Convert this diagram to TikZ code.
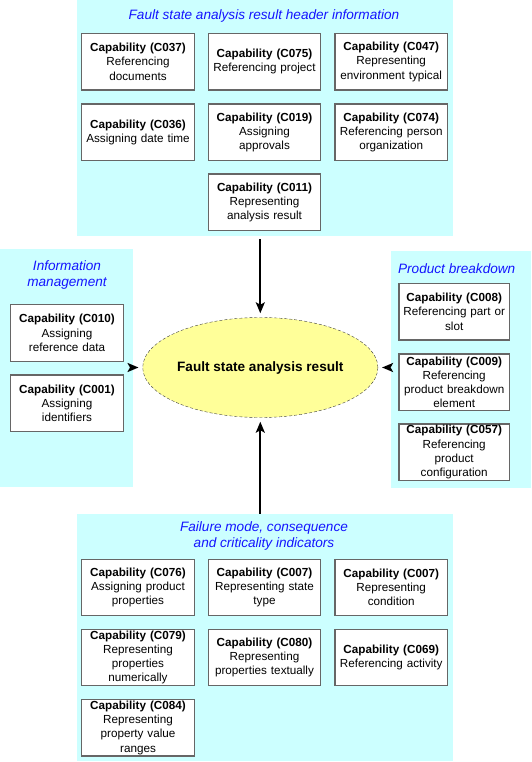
\documentclass[tikz,border=0pt]{standalone}
\usepackage{fontspec}
\setmainfont{Liberation Sans}
\usepackage{tikz}
\usetikzlibrary{arrows.meta, shapes.geometric, positioning}
\definecolor{colorPanel}{RGB}{204,255,255}
\definecolor{colorTitle}{RGB}{20,20,255}
\definecolor{colorResult}{RGB}{255,255,153}
\colorlet{colorBorder}{black!60}
\tikzset{
  capbox/.style={rectangle, draw=colorBorder, line width=1.4pt, fill=white, minimum width=112.5pt, minimum height=56.5pt, text width=110pt, inner xsep=1pt, inner ysep=0pt, align=center, font=\fontsize{11.7}{14.3}\selectfont},
  panel/.style={rectangle, fill=colorPanel, inner sep=0pt},
  paneltitle/.style={text=colorTitle, align=center, inner sep=0pt, font=\fontsize{13.6}{16.8}\selectfont\itshape},
  flow/.style={->, line width=2pt, shorten <=3pt, shorten >=4pt}
}

\begin{document}
\begin{tikzpicture}[>={Stealth[length=11pt, width=9pt, inset=2.5pt]}, x=1pt, y=-1pt]
\useasboundingbox (0,0) rectangle (531,762);
% groups
\node[panel, minimum width=376pt, minimum height=236pt] (header) at (265,118) {};
\node[panel, minimum width=133pt, minimum height=238pt] (infomgmt) at (66.5,368) {};
\node[panel, minimum width=140.3pt, minimum height=237pt] (prodbd) at (460.8,369.5) {};
\node[panel, minimum width=376pt, minimum height=247pt] (fmeca) at (265,637.5) {};
\node[paneltitle] (headertitle) at (264,16) {Fault state analysis result header information};
\node[paneltitle] (infomgmttitle) at (67,275) {Information\\management};
\node[paneltitle] (prodbdtitle) at (456.7,269) {Product breakdown};
\node[paneltitle] (fmecatitle) at (264,536) {Failure mode, consequence\\and criticality indicators};
% header information
\node[capbox] (c037) at (138,61.7) {\textbf{Capability (C037)}\\Referencing\\documents};
\node[capbox] (c075) at (264.5,61.7) {\textbf{Capability (C075)}\\Referencing project};
\node[capbox] (c047) at (391.2,61.7) {\textbf{Capability (C047)}\\Representing\\environment typical};
\node[capbox] (c036) at (138,132.3) {\textbf{Capability (C036)}\\Assigning date time};
\node[capbox] (c019) at (264.5,132.3) {\textbf{Capability (C019)}\\Assigning\\approvals};
\node[capbox] (c074) at (391.2,132.3) {\textbf{Capability (C074)}\\Referencing person\\organization};
\node[capbox] (c011) at (264.5,202.3) {\textbf{Capability (C011)}\\Representing\\analysis result};
% information management
\node[capbox] (c010) at (67,333) {\textbf{Capability (C010)}\\Assigning\\reference data};
\node[capbox] (c001) at (67,403.3) {\textbf{Capability (C001)}\\Assigning\\identifiers};
% product breakdown
\node[capbox, minimum width=110.3pt, text width=108pt] (c008) at (454.2,311.7) {\textbf{Capability (C008)}\\Referencing part or\\slot};
\node[capbox, minimum width=110.3pt, text width=108pt] (c009) at (454.2,382.3) {\textbf{Capability (C009)}\\Referencing\\product breakdown\\element};
\node[capbox, minimum width=110.3pt, text width=108pt] (c057) at (454.2,452.2) {\textbf{Capability (C057)}\\Referencing\\product\\configuration};
% failure mode, consequence and criticality
\node[capbox] (c076) at (138,587.5) {\textbf{Capability (C076)}\\Assigning product\\properties};
\node[capbox] (c007a) at (264.5,587.5) {\textbf{Capability (C007)}\\Representing state\\type};
\node[capbox] (c007b) at (391.2,587.5) {\textbf{Capability (C007)}\\Representing\\condition};
\node[capbox] (c079) at (138,657.5) {\textbf{Capability (C079)}\\Representing\\properties\\numerically};
\node[capbox] (c080) at (264.5,657.5) {\textbf{Capability (C080)}\\Representing\\properties textually};
\node[capbox] (c069) at (391.2,657.5) {\textbf{Capability (C069)}\\Referencing activity};
\node[capbox] (c084) at (138,727.7) {\textbf{Capability (C084)}\\Representing\\property value\\ranges};
% result
\node[ellipse, draw=black!75, dash pattern=on 3pt off 2pt, fill=colorResult, minimum width=186pt, minimum height=100pt, inner sep=0pt, font=\fontsize{13.6}{16}\selectfont\bfseries] (result) at (260.3,367.5) {Fault state analysis result};
\draw[flow] (header.south -| result.north) -- (result.north);
\draw[flow] (infomgmt.east |- result.west) -- (result.west);
\draw[flow] (prodbd.west |- result.east) -- (result.east);
\draw[flow, shorten <=0pt] (fmeca.north -| result.south) -- (result.south);
\end{tikzpicture}
\end{document}
